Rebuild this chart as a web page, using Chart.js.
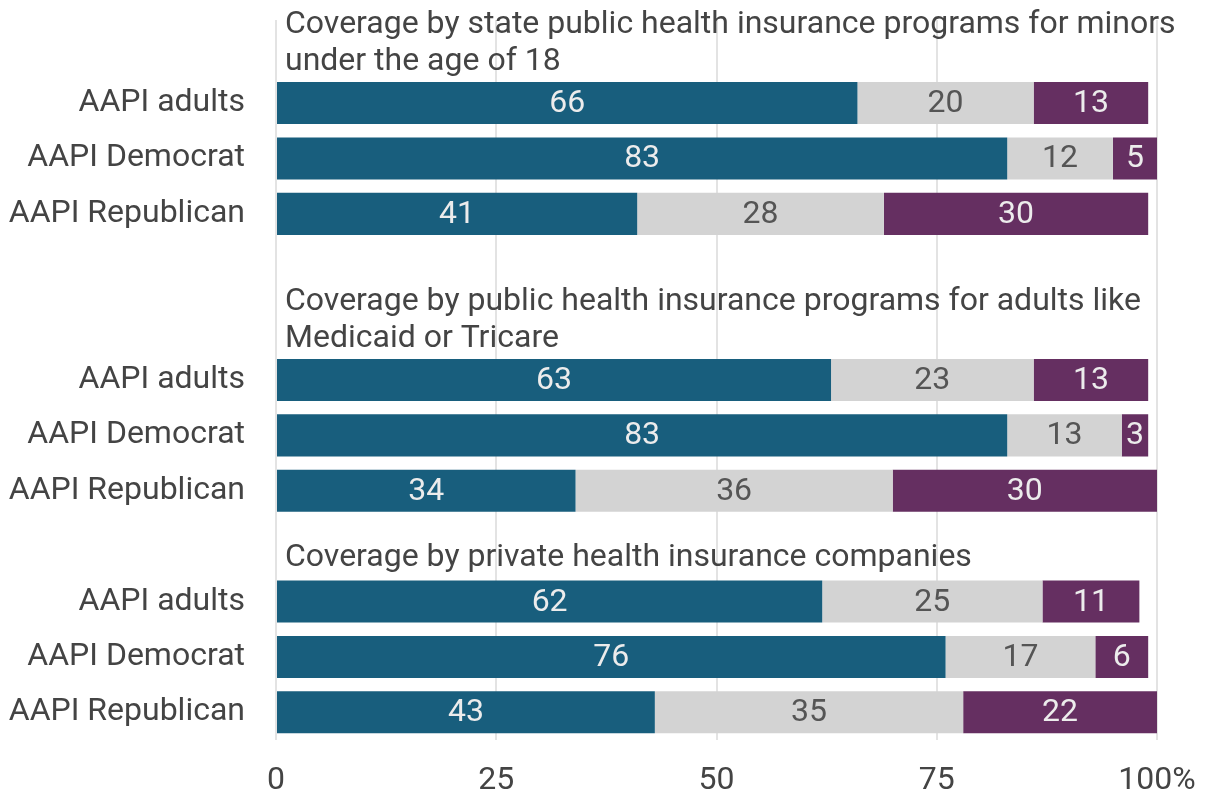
<!DOCTYPE html>
<html>
<head>
<meta charset="utf-8">
<script src="https://cdn.jsdelivr.net/npm/chart.js@4"></script>
<style>
  html, body { margin: 0; padding: 0; background: #fff; }
  #wrap { width: 1215px; height: 794px; }
</style>
</head>
<body>
<div id="wrap"><canvas id="myChart"></canvas></div>
<script>
const groupTitles = [
    ["Coverage by state public health insurance programs for minors", "under the age of 18"],
    ["Coverage by public health insurance programs for adults like", "Medicaid or Tricare"],
    ["Coverage by private health insurance companies"],
];
const groupGap = [1, 2, 1];
const rowNames = ["AAPI adults", "AAPI Democrat", "AAPI Republican"];

const support = [66, 83, 41, 63, 83, 34, 62, 76, 43];
const unsure = [20, 12, 28, 23, 13, 36, 25, 17, 35];
const oppose = [13, 5, 30, 13, 3, 30, 11, 6, 22];

const xTicks = [0, 25, 50, 75, 100];

// slot layout: empty slots for group titles, then the three rows
const labels = [];
const firstRow = [];
const slot = (arr) => {
    const out = [];
    let k = 0;
    groupGap.forEach((gap) => {
        for (let i = 0; i < gap; i++) out.push(null);
        for (let i = 0; i < rowNames.length; i++) out.push(arr[k++]);
    });
    return out;
};
groupGap.forEach((gap) => {
    for (let i = 0; i < gap; i++) labels.push("");
    firstRow.push(labels.length);
    rowNames.forEach((n) => labels.push(n));
});

const font = "Roboto";

const barLabels = {
    id: "barLabels",
    afterDatasetsDraw(chart) {
        const ctx = chart.ctx;
        ctx.save();
        ctx.font = "32px " + font;
        ctx.textAlign = "center";
        ctx.textBaseline = "middle";
        chart.data.datasets.forEach((ds, di) => {
            chart.getDatasetMeta(di).data.forEach((bar, i) => {
                const v = ds.data[i];
                if (v == null) return;
                const p = bar.getProps(["x", "y", "base"], true);
                ctx.fillStyle = ds.textColor;
                ctx.fillText(String(v), (p.x + p.base) / 2, p.y + 1);
            });
        });
        ctx.restore();
    },
};

const titles = {
    id: "titles",
    afterDraw(chart) {
        const ctx = chart.ctx;
        const y = chart.scales.y;
        ctx.save();
        ctx.font = "32px " + font;
        ctx.fillStyle = "#444";
        ctx.textAlign = "left";
        ctx.textBaseline = "alphabetic";
        groupTitles.forEach((lines, g) => {
            const base = y.getPixelForValue(firstRow[g]) - 33 - (lines.length === 1 ? 3 : 0);
            lines.forEach((t, li) => {
                ctx.fillText(t, chart.chartArea.left + 9, base - (lines.length - 1 - li) * 37);
            });
        });
        ctx.restore();
    },
};

new Chart(document.getElementById("myChart"), {
    type: "bar",
    data: {
        labels: labels,
        datasets: [
            { data: slot(support), backgroundColor: "#185e7d", textColor: "#ececec" },
            { data: slot(unsure), backgroundColor: "#d3d3d3", textColor: "#555555" },
            { data: slot(oppose), backgroundColor: "#652f61", textColor: "#ececec" },
        ],
    },
    options: {
        indexAxis: "y",
        responsive: true,
        maintainAspectRatio: false,
        animation: false,
        barPercentage: 0.76,
        categoryPercentage: 1,
        layout: { padding: { top: 20, right: 58, left: 0, bottom: 0 } },
        plugins: { legend: { display: false }, tooltip: { enabled: false } },
        scales: {
            x: {
                stacked: true,
                min: 0,
                max: 100,
                afterBuildTicks: (s) => { s.ticks = xTicks.map((v) => ({ value: v })); },
                afterFit: (s) => { s.height = 54; s.paddingLeft = 0; s.paddingRight = 0; },
                grid: { color: "#e3e3e3", lineWidth: 2, drawTicks: false },
                border: { display: false },
                ticks: {
                    padding: 22,
                    color: "#444",
                    font: { family: font, size: 32 },
                    maxRotation: 0,
                    callback: (v) => (v === 100 ? "100%" : v),
                },
            },
            y: {
                stacked: true,
                grid: { display: false },
                border: { display: false },
                afterFit: (s) => { s.width = 276; s.paddingTop = 0; s.paddingBottom = 0; },
                ticks: {
                    padding: 23,
                    color: "#444",
                    font: { family: font, size: 32 },
                    autoSkip: false,
                },
            },
        },
    },
    plugins: [barLabels, titles],
});
</script>
</body>
</html>
